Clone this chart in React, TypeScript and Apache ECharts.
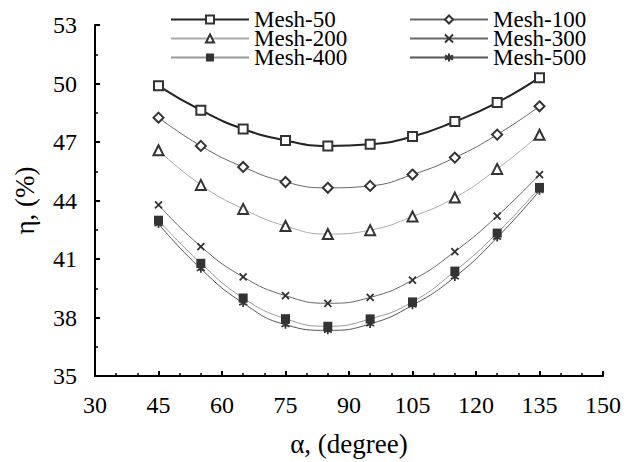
import React, { useEffect, useRef } from "react";
import * as echarts from "echarts";

const angles = [45, 55, 65, 75, 85, 95, 105, 115, 125, 135];
const mesh50 = [49.88, 48.63, 47.67, 47.08, 46.8, 46.88, 47.28, 48.05, 49.02, 50.3];
const mesh100 = [48.25, 46.8, 45.72, 44.95, 44.65, 44.75, 45.33, 46.2, 47.38, 48.83];
const mesh200 = [46.58, 44.8, 43.57, 42.69, 42.28, 42.48, 43.18, 44.15, 45.62, 47.37];
const mesh300 = [43.78, 41.64, 40.08, 39.12, 38.73, 39.03, 39.92, 41.38, 43.2, 45.33];
const mesh400 = [42.99, 40.78, 39.0, 37.94, 37.55, 37.93, 38.8, 40.38, 42.33, 44.67];
const mesh500 = [42.8, 40.5, 38.74, 37.63, 37.34, 37.67, 38.63, 40.08, 42.1, 44.5];

const seriesNames = ["Mesh-50", "Mesh-100", "Mesh-200", "Mesh-300", "Mesh-400", "Mesh-500"];
const xTicks = { min: 30, max: 150, interval: 15 };
const yTicks = { min: 35, max: 53, interval: 3 };

const FONT = "Liberation Serif";

const crossPath = "path://M0,0L10,10M10,0L0,10";
const starPath = "path://M5,0L5,10M0.7,2.5L9.3,7.5M0.7,7.5L9.3,2.5";

export default function App() {
  const ref = useRef<HTMLDivElement>(null);
  useEffect(() => {
    if (!ref.current) return;
    const chart = echarts.init(ref.current, undefined, { renderer: "svg" });
    const datasets = [mesh50, mesh100, mesh200, mesh300, mesh400, mesh500];
    const styles = [
      { line: "#222", width: 2, symbol: "emptyRect", size: 9, bw: 1.5 },
      { line: "#666", width: 1, symbol: "emptyDiamond", size: 10, bw: 1.5 },
      { line: "#aaa", width: 1, symbol: "emptyTriangle", size: 10, bw: 1.8 },
      { line: "#666", width: 1, symbol: crossPath, size: 7, bw: 1.8 },
      { line: "#999", width: 1, symbol: "rect", size: 9, bw: 0 },
      { line: "#555", width: 1, symbol: starPath, size: 8, bw: 1.8 },
    ];
    const series = datasets.map((d, i) => {
      const s = styles[i];
      return {
        name: seriesNames[i],
        type: "line",
        smooth: true,
        data: angles.map((a, j) => [a, d[j]]),
        symbol: s.symbol,
        symbolSize: s.size,
        showAllSymbol: true,
        lineStyle: { color: s.line, width: s.width },
        itemStyle: { color: "#333", borderColor: "#333", borderWidth: s.bw },
        z: 10 - i,
      };
    });
    const legendCommon = {
      orient: "vertical",
      top: 8,
      itemWidth: 78,
      itemHeight: 10,
      itemGap: -4,
      padding: 0,
      textStyle: { fontFamily: FONT, fontSize: 23, color: "#000", lineHeight: 23 },
    };
    chart.setOption({
      animation: false,
      backgroundColor: "#fff",
      grid: { left: 95, right: 27, top: 25, bottom: 77 },
      legend: [
        { ...legendCommon, left: 170, data: ["Mesh-50", "Mesh-200", "Mesh-400"] },
        { ...legendCommon, left: 409, data: ["Mesh-100", "Mesh-300", "Mesh-500"] },
      ],
      xAxis: {
        type: "value",
        min: xTicks.min,
        max: xTicks.max,
        interval: xTicks.interval,
        name: "α, (degree)",
        nameLocation: "middle",
        nameGap: 54,
        nameTextStyle: { fontFamily: FONT, fontSize: 27, color: "#000" },
        axisLine: { lineStyle: { color: "#000", width: 2 } },
        axisTick: { inside: true, length: 5, lineStyle: { color: "#000", width: 2 } },
        minorTick: { show: true, splitNumber: 3, length: 3, lineStyle: { color: "#000", width: 1.5 } },
        axisLabel: { fontFamily: FONT, fontSize: 24, color: "#000", margin: 17 },
        splitLine: { show: false },
      },
      yAxis: {
        type: "value",
        min: yTicks.min,
        max: yTicks.max,
        interval: yTicks.interval,
        name: "η, (%)",
        nameLocation: "middle",
        nameGap: 57,
        nameTextStyle: { fontFamily: FONT, fontSize: 27, color: "#000" },
        axisLine: { show: true, lineStyle: { color: "#000", width: 2 } },
        axisTick: { show: true, inside: true, length: 5, lineStyle: { color: "#000", width: 2 } },
        minorTick: { show: true, splitNumber: 2, length: 3, lineStyle: { color: "#000", width: 1.5 } },
        axisLabel: { fontFamily: FONT, fontSize: 24, color: "#000", margin: 18 },
        splitLine: { show: false },
      },
      series,
    });
    return () => chart.dispose();
  }, []);
  return <div ref={ref} style={{ width: 630, height: 462, position: "absolute", left: 0, top: 0 }} />;
}
